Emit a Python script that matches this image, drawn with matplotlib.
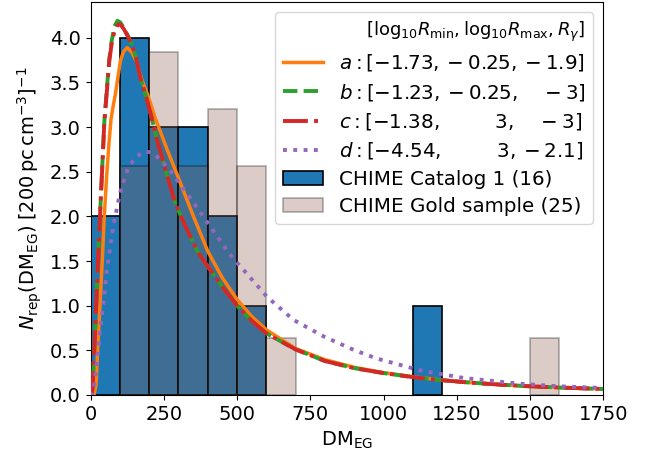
import numpy as np
import matplotlib
matplotlib.use("Agg")
import matplotlib.pyplot as plt

# ---- data ----
bin_edges = [0, 100, 200, 300, 400, 500, 600, 700, 800, 900, 1000, 1100, 1200, 1300, 1400, 1500, 1600, 1700]
cat1_counts = [2, 4, 3, 3, 2, 1, 0, 0, 0, 0, 0, 1, 0, 0, 0, 0, 0]
gold_counts = [0, 4, 6, 4, 5, 4, 1, 0, 0, 0, 0, 0, 0, 0, 0, 1, 0]
n_cat1 = 16
n_gold = 25

dm_a = [0, 12, 19, 25, 32, 40, 47, 55, 63, 70, 78, 85, 93, 102, 112, 125, 140, 156, 173, 195, 222, 260, 300,
        350, 400, 450, 500, 550, 600, 700, 800, 900, 1000, 1100, 1183, 1300, 1400, 1500, 1600, 1750]
n_a = [0, 0, 0.12, 0.55, 0.99, 1.50, 2.0, 2.45, 2.82, 3.09, 3.25, 3.37, 3.55, 3.74, 3.84, 3.89, 3.84, 3.74, 3.55,
       3.36, 3.09, 2.76, 2.43, 2.01, 1.61, 1.31, 1.07, 0.88, 0.73, 0.52, 0.395, 0.31, 0.25, 0.205, 0.172, 0.138,
       0.116, 0.097, 0.083, 0.067]

dm_bc = [0, 4, 7.5, 11, 15, 19, 24, 28, 33, 40, 47, 55, 64, 72, 82, 92, 102, 115, 128, 140, 155, 170, 187, 209,
         226, 255, 289, 325, 368, 400, 450, 500, 550, 600, 700, 800, 900, 1000, 1100, 1183, 1300, 1400, 1500, 1600,
         1750]
n_b = [0, 0, 0.09, 0.38, 0.65, 0.99, 1.40, 1.70, 2.05, 2.55, 3.05, 3.40, 3.76, 3.96, 4.13, 4.19, 4.17, 4.10, 4.02,
       3.93, 3.78, 3.55, 3.37, 3.10, 2.87, 2.53, 2.15, 1.88, 1.59, 1.44, 1.21, 1.00, 0.83, 0.69, 0.51, 0.38, 0.30,
       0.245, 0.20, 0.170, 0.137, 0.115, 0.097, 0.083, 0.067]
n_c = [0, 0, 0.09, 0.38, 0.65, 0.99, 1.40, 1.70, 2.05, 2.55, 3.05, 3.37, 3.74, 3.93, 4.08, 4.14, 4.15, 4.09, 4.01,
       3.93, 3.78, 3.55, 3.37, 3.10, 2.87, 2.53, 2.15, 1.88, 1.59, 1.44, 1.21, 1.00, 0.83, 0.69, 0.51, 0.38, 0.30,
       0.245, 0.20, 0.170, 0.137, 0.115, 0.097, 0.083, 0.067]

dm_d = [0, 5, 9.6, 14, 19, 22, 27, 30, 35, 39, 44, 48.5, 52, 56, 62, 68, 73.5, 79, 87, 95, 103, 116, 127, 148, 178,
        200, 215, 240, 272, 317, 363, 408, 474, 500, 525, 602, 693, 796, 898, 975, 1120, 1274, 1468, 1600, 1750]
n_d = [0, 0, 0.04, 0.15, 0.28, 0.40, 0.52, 0.66, 0.78, 0.90, 1.03, 1.16, 1.28, 1.40, 1.54, 1.67, 1.80, 1.92, 2.04,
       2.17, 2.29, 2.42, 2.53, 2.64, 2.72, 2.72, 2.70, 2.63, 2.51, 2.31, 2.10, 1.89, 1.58, 1.48, 1.39, 1.10, 0.84,
       0.655, 0.505, 0.41, 0.28, 0.19, 0.125, 0.097, 0.078]

labels = [r"$a: [-1.73, -0.25, -1.9]$",
          r"$b: [-1.23, -0.25, \quad-3]$",
          r"$c: [-1.38, \qquad\enspace\,3, \quad-3]$",
          r"$d: [-4.54, \qquad\enspace\,3, -2.1]$"]
legend_title = r"$[\mathrm{log}_{10}R_{\rm min}, \mathrm{log}_{10}R_{\rm max}, R_\gamma]$"

# ---- plot ----
plt.rcParams['font.size'] = 14
fig = plt.figure(figsize=(6.56, 4.54), dpi=100)
ax = fig.add_axes([0.138, 0.130, 0.7817, 0.8656])

edges = np.array(bin_edges, dtype=float)
widths = np.diff(edges)
c1 = np.array(cat1_counts, dtype=float)
g1 = np.array(gold_counts, dtype=float) * n_cat1 / n_gold
m1 = c1 > 0
mg = g1 > 0
bars1 = ax.bar(edges[:-1][m1], c1[m1], width=widths[m1], align='edge', color='C0', edgecolor='k',
               linewidth=1.2, label=f"CHIME Catalog 1 ({n_cat1})")
bars2 = ax.bar(edges[:-1][mg], g1[mg], width=widths[mg], align='edge', color='C5', edgecolor='k',
               linewidth=1.2, alpha=0.3, label=f"CHIME Gold sample ({n_gold})")

la, = ax.plot(dm_a, n_a, color='C1', lw=2.5, ls='-', label=labels[0], zorder=3)
lb, = ax.plot(dm_bc, n_b, color='C2', lw=2.8, ls='--', label=labels[1], zorder=3)
lc, = ax.plot(dm_bc, n_c, color='C3', lw=2.8, ls='-.', label=labels[2], zorder=3)
ld, = ax.plot(dm_d, n_d, color='C4', lw=2.8, ls=':', label=labels[3], zorder=3)

ax.set_xlim(0, 1750)
ax.set_ylim(0, 4.4)
ax.set_xticks([0, 250, 500, 750, 1000, 1250, 1500, 1750])
ax.set_yticks(np.arange(0, 4.01, 0.5))
ax.set_xlabel(r"$\mathrm{DM}_{\rm EG}$")
ax.set_ylabel(r"$N_{\rm rep}(\mathrm{DM}_{\rm EG})\;[200\,\mathrm{pc\,cm^{-3}}]^{-1}$")
handles = [la, lb, lc, ld, bars1, bars2]
ax.legend(handles=handles, labels=[h.get_label() for h in handles], title=legend_title,
          alignment='right', loc='upper right', fontsize=14.3, title_fontsize=13, labelspacing=0.42)

fig.savefig("out.png", dpi=100)
